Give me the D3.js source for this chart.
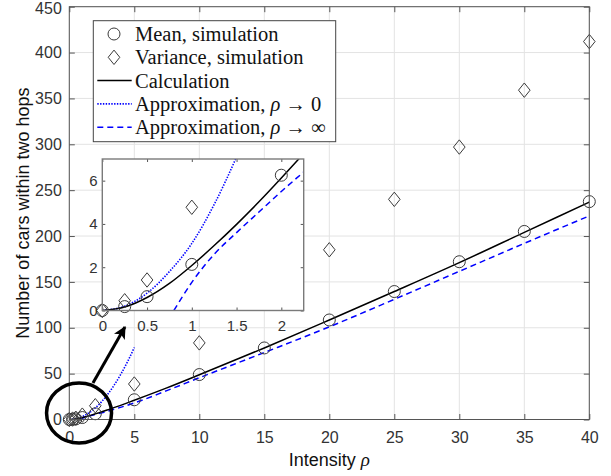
<!DOCTYPE html>
<html><head><meta charset="utf-8">
<script src="https://cdn.jsdelivr.net/npm/d3@7"></script>
<style>
html,body{margin:0;padding:0;background:#fff;}
svg{display:block;}
</style></head>
<body>
<svg id="chart" width="611" height="476"></svg>
<script>
// ---- data ----
const rhoSim   = [0, 0.25, 0.5, 1, 2, 5, 10, 15, 20, 25, 30, 35, 40];
const meanSim  = [0, 0.18, 0.64, 2.13, 6.25, 21.5, 49, 78, 108.5, 139.5, 172, 205, 237.5];
const varSim   = [0, 0.45, 1.41, 4.77, 15, 38.7, 83.5, 133, 185, 240, 297, 359, 412];

const rhoCalc  = [0, 0.25, 0.5, 0.75, 1, 1.25, 1.5, 1.75, 2, 2.25, 2.5, 3, 4, 5, 7.5, 10, 15, 20, 25, 30, 35, 40];
const calcVal  = [0, 0.16, 0.6, 1.25, 2.08, 3.0, 3.98, 5.02, 6.12, 7.25, 8.4, 10.8, 15.7, 21.0, 34.5, 48.8, 78, 108.5, 139.5, 171, 204, 237];

const rhoAp0   = [0, 0.25, 0.5, 0.75, 1, 1.25, 1.5, 1.75, 2, 2.5, 3, 3.5, 4, 4.5, 5];
const ap0Val   = [0, 0.2, 0.8, 1.8, 3.1, 4.9, 7.1, 9.6, 12.6, 19.6, 28.3, 38.5, 50.3, 63.6, 78.5];

const rhoApInf = [0.8, 1, 1.25, 1.5, 1.75, 2, 2.25, 2.5, 3, 4, 5, 7.5, 10, 15, 20, 25, 30, 35, 40];
const apInfVal = [0, 1.3, 2.6, 3.6, 4.55, 5.5, 6.4, 7.3, 9.3, 13.5, 18, 31.5, 45.5, 73, 101, 131, 161.5, 192, 222];

const xTicks  = [0, 5, 10, 15, 20, 25, 30, 35, 40];
const yTicks  = [0, 50, 100, 150, 200, 250, 300, 350, 400, 450];
const xiTicks = [0, 0.5, 1, 1.5, 2];
const yiTicks = [0, 2, 4, 6];

const legendLabels = ["Mean, simulation", "Variance, simulation", "Calculation",
                      "Approximation, ", "Approximation, "];

// ---- setup ----
const svg = d3.select("#chart");
const sans = "'Liberation Sans', Arial, sans-serif";
const serif = "'Liberation Serif', 'Times New Roman', serif";
const tickCol = "#333";
const axisCol = "#555";
const markerCol = "#3a3a3a";

const x = d3.scaleLinear([0, 40], [69.3, 589.3]);
const y = d3.scaleLinear([0, 450], [419.5, 6.7]);
const xi = d3.scaleLinear([0, 2.25], [102.3, 303.7]);
const yi = d3.scaleLinear([0, 7], [310.5, 159]);

const zip = (a, b) => a.map((v, i) => [v, b[i]]);
const calcPts = zip(rhoCalc, calcVal);
const ap0Pts = zip(rhoAp0, ap0Val);
const apInfPts = zip(rhoApInf, apInfVal);
const meanPts = zip(rhoSim, meanSim);
const varPts = zip(rhoSim, varSim);

function diamondPath(cx, cy, w = 5.8, h = 7.2) {
  return `M${cx},${cy - h}L${cx + w},${cy}L${cx},${cy + h}L${cx - w},${cy}Z`;
}

// clip paths
const defs = svg.append("defs");
defs.append("clipPath").attr("id", "clipMain").append("rect")
  .attr("x", x(0)).attr("y", y(450)).attr("width", x(40) - x(0)).attr("height", y(0) - y(450));
defs.append("clipPath").attr("id", "clipInset").append("rect")
  .attr("x", xi(0)).attr("y", yi(7)).attr("width", xi(2.25) - xi(0)).attr("height", yi(0) - yi(7));
defs.append("marker").attr("id", "arrowHead").attr("viewBox", "0 0 10 10")
  .attr("refX", 9).attr("refY", 5).attr("markerWidth", 4.2).attr("markerHeight", 4.2)
  .attr("markerUnits", "strokeWidth").attr("orient", "auto")
  .append("path").attr("d", "M0,0L10,5L0,10L2.5,5Z").attr("fill", "#000");

// ---- main plot ----
const main = svg.append("g");
// grid
main.append("g").selectAll("line").data(xTicks).join("line")
  .attr("x1", d => x(d)).attr("x2", d => x(d)).attr("y1", y(0)).attr("y2", y(450))
  .attr("stroke", "#e3e3e3").attr("stroke-width", 1);
main.append("g").selectAll("line").data(yTicks).join("line")
  .attr("y1", d => y(d)).attr("y2", d => y(d)).attr("x1", x(0)).attr("x2", x(40))
  .attr("stroke", "#e3e3e3").attr("stroke-width", 1);

function drawSeries(g, sx, sy, clipId) {
  const line = d3.line().x(d => sx(d[0])).y(d => sy(d[1])).curve(d3.curveMonotoneX);
  const lg = g.append("g").attr("clip-path", `url(#${clipId})`);
  lg.append("path").datum(apInfPts).attr("d", line).attr("fill", "none")
    .attr("stroke", "#0000ff").attr("stroke-width", 1.5).attr("stroke-dasharray", "6,4");
  lg.append("path").datum(ap0Pts).attr("d", line).attr("fill", "none")
    .attr("stroke", "#0000ff").attr("stroke-width", 1.6).attr("stroke-dasharray", "1.4,1.4");
  lg.append("path").datum(calcPts).attr("d", line).attr("fill", "none")
    .attr("stroke", "#000").attr("stroke-width", 1.5);
  const inDom = d => d[0] >= sx.domain()[0] && d[0] <= sx.domain()[1] &&
                     d[1] >= sy.domain()[0] && d[1] <= sy.domain()[1];
  g.append("g").selectAll("circle").data(meanPts.filter(inDom)).join("circle")
    .attr("cx", d => sx(d[0])).attr("cy", d => sy(d[1])).attr("r", 6)
    .attr("fill", "none").attr("stroke", markerCol).attr("stroke-width", 1);
  g.append("g").selectAll("path").data(varPts.filter(inDom)).join("path")
    .attr("d", d => diamondPath(sx(d[0]), sy(d[1])))
    .attr("fill", "none").attr("stroke", markerCol).attr("stroke-width", 1);
}
drawSeries(main, x, y, "clipMain");

// axes (inward ticks)
function styleAxis(g, fs) {
  g.select(".domain").remove();
  g.selectAll(".tick line").attr("stroke", axisCol).attr("stroke-width", 1);
  g.selectAll(".tick text").attr("fill", tickCol).attr("font-family", sans).attr("font-size", fs);
}
main.append("g").attr("transform", `translate(0,${y(0)})`)
  .call(d3.axisBottom(x).tickValues(xTicks).tickSize(-5.5).tickPadding(12).tickFormat(d3.format("d")))
  .call(g => styleAxis(g, 16));
main.append("g").attr("transform", `translate(0,${y(450)})`)
  .call(d3.axisTop(x).tickValues(xTicks).tickSize(-5.5).tickFormat(""))
  .call(g => styleAxis(g, 16));
main.append("g").attr("transform", `translate(${x(0)},0)`)
  .call(d3.axisLeft(y).tickValues(yTicks).tickSize(-5.5).tickPadding(7.5).tickFormat(d3.format("d")))
  .call(g => styleAxis(g, 16))
  .call(g => g.selectAll(".tick text").filter(d => d === 450).attr("dy", "0.45em"));
main.append("g").attr("transform", `translate(${x(40)},0)`)
  .call(d3.axisRight(y).tickValues(yTicks).tickSize(-5.5).tickFormat(""))
  .call(g => styleAxis(g, 16));
main.append("rect").attr("x", x(0)).attr("y", y(450)).attr("width", x(40) - x(0)).attr("height", y(0) - y(450))
  .attr("fill", "none").attr("stroke", axisCol).attr("stroke-width", 1);

// axis labels
svg.append("text").attr("x", x.range()[0] / 2 + x.range()[1] / 2).attr("y", 466)
  .attr("text-anchor", "middle").attr("font-family", sans).attr("font-size", 18).attr("fill", "#111")
  .call(t => {
    t.append("tspan").text("Intensity ");
    t.append("tspan").attr("font-family", serif).attr("font-style", "italic").attr("font-size", 19).text("ρ");
  });
svg.append("text").attr("transform", `translate(29,${(y(0) + y(450)) / 2}) rotate(-90)`)
  .attr("text-anchor", "middle").attr("font-family", sans).attr("font-size", 18).attr("fill", "#111")
  .text("Number of cars within two hops");

// ---- inset ----
const inset = svg.append("g");
inset.append("rect").attr("x", xi(0)).attr("y", yi(7)).attr("width", xi(2.25) - xi(0)).attr("height", yi(0) - yi(7))
  .attr("fill", "#fff");
drawSeries(inset, xi, yi, "clipInset");
inset.append("g").attr("transform", `translate(0,${yi(0)})`)
  .call(d3.axisBottom(xi).tickValues(xiTicks).tickSize(-3).tickPadding(9.4).tickFormat(d => d))
  .call(g => styleAxis(g, 15));
inset.append("g").attr("transform", `translate(0,${yi(7)})`)
  .call(d3.axisTop(xi).tickValues(xiTicks).tickSize(-3).tickFormat(""))
  .call(g => styleAxis(g, 15));
inset.append("g").attr("transform", `translate(${xi(0)},0)`)
  .call(d3.axisLeft(yi).tickValues(yiTicks).tickSize(-3).tickPadding(4.8).tickFormat(d => d))
  .call(g => styleAxis(g, 15));
inset.append("g").attr("transform", `translate(${xi(2.25)},0)`)
  .call(d3.axisRight(yi).tickValues(yiTicks).tickSize(-3).tickFormat(""))
  .call(g => styleAxis(g, 15));
inset.append("rect").attr("x", xi(0)).attr("y", yi(7)).attr("width", xi(2.25) - xi(0)).attr("height", yi(0) - yi(7))
  .attr("fill", "none").attr("stroke", "#7a7a7a").attr("stroke-width", 1.4);

// ---- legend ----
const lg = svg.append("g");
const lgX = 93.3, lgY = 20.7, lgW = 242.4, lgH = 121;
lg.append("rect").attr("x", lgX).attr("y", lgY).attr("width", lgW).attr("height", lgH)
  .attr("fill", "#fff").attr("stroke", "#444").attr("stroke-width", 1);
const rowY = i => 34 + i * 23.3;
const symX = 114, lineX1 = 97.3, lineX2 = 131.7, textX = 135;
lg.append("circle").attr("cx", symX).attr("cy", rowY(0)).attr("r", 6)
  .attr("fill", "none").attr("stroke", markerCol);
lg.append("path").attr("d", diamondPath(symX, rowY(1))).attr("fill", "none").attr("stroke", markerCol);
lg.append("line").attr("x1", lineX1).attr("x2", lineX2).attr("y1", rowY(2)).attr("y2", rowY(2))
  .attr("stroke", "#000").attr("stroke-width", 1.5);
lg.append("line").attr("x1", lineX1).attr("x2", lineX2).attr("y1", rowY(3)).attr("y2", rowY(3))
  .attr("stroke", "#0000ff").attr("stroke-width", 1.6).attr("stroke-dasharray", "1.4,1.4");
lg.append("line").attr("x1", lineX1).attr("x2", lineX2).attr("y1", rowY(4)).attr("y2", rowY(4))
  .attr("stroke", "#0000ff").attr("stroke-width", 1.5).attr("stroke-dasharray", "6,4");
const suffix = [null, null, null, " → 0", " → ∞"];
legendLabels.forEach((lab, i) => {
  const t = lg.append("text").attr("x", textX).attr("y", rowY(i) + 7)
    .attr("font-family", serif).attr("font-size", 20.5).attr("fill", "#111");
  t.append("tspan").text(lab);
  if (suffix[i]) {
    t.append("tspan").attr("font-style", "italic").text("ρ");
    t.append("tspan").text(suffix[i]);
  }
});

// ---- annotation: ellipse around origin and arrow to inset ----
const annEllipse = {cx: 0.75, cy: 7.1, rx: 2.5, ry: 32.7};
const annArrow = {x1: 1.82, y1: 39.8, x2: 4.28, y2: 100.8};
svg.append("ellipse")
  .attr("cx", x(annEllipse.cx)).attr("cy", y(annEllipse.cy))
  .attr("rx", x(annEllipse.rx) - x(0)).attr("ry", y(0) - y(annEllipse.ry))
  .attr("fill", "none").attr("stroke", "#000").attr("stroke-width", 3.5);
svg.append("line")
  .attr("x1", x(annArrow.x1)).attr("y1", y(annArrow.y1))
  .attr("x2", x(annArrow.x2)).attr("y2", y(annArrow.y2))
  .attr("stroke", "#000").attr("stroke-width", 3).attr("marker-end", "url(#arrowHead)");
</script>
</body></html>
